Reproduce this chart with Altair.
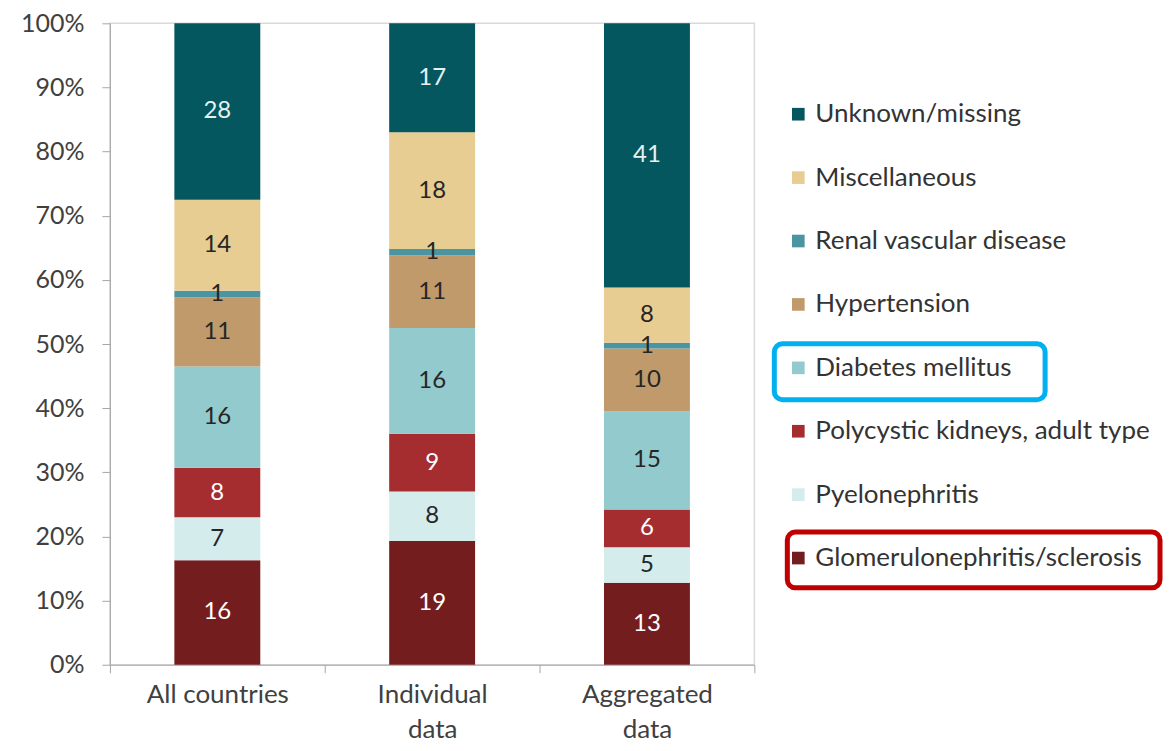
import altair as alt
import pandas as pd

categories = ["All countries", "Individual data", "Aggregated data"]
causes = [
    "Glomerulonephritis/sclerosis",
    "Pyelonephritis",
    "Polycystic kidneys, adult type",
    "Diabetes mellitus",
    "Hypertension",
    "Renal vascular disease",
    "Miscellaneous",
    "Unknown/missing",
]
colors = ["#741D1F", "#D4ECEC", "#A52D30", "#93CACD", "#C09A6B", "#4B95A2", "#E8CD93", "#04575F"]
label_colors = ["#FFFFFF", "#262626", "#FFFFFF", "#262626", "#262626", "#262626", "#262626", "#E6F2F2"]

all_countries = [16.3, 6.7, 7.7, 15.8, 10.8, 1.0, 14.2, 27.5]
individual = [19.3, 7.7, 9.0, 16.5, 11.3, 1.0, 18.2, 17.0]
aggregated = [12.8, 5.5, 5.9, 15.3, 9.8, 0.9, 8.6, 41.2]

labels_all = [16, 7, 8, 16, 11, 1, 14, 28]
labels_ind = [19, 8, 9, 16, 11, 1, 18, 17]
labels_agg = [13, 5, 6, 15, 10, 1, 8, 41]

highlight = ["Diabetes mellitus", "Glomerulonephritis/sclerosis"]
highlight_colors = ["#00B0F0", "#C00000"]

FONT = "Lato"

rows = []
for cat, vals, labs in zip(categories, [all_countries, individual, aggregated], [labels_all, labels_ind, labels_agg]):
    for i, (c, v, l) in enumerate(zip(causes, vals, labs)):
        rows.append({"category": cat, "cause": c, "value": v, "label": str(l), "ord": i, "lc": label_colors[i]})
df = pd.DataFrame(rows)

base = alt.Chart(df).transform_stack(
    stack="value", groupby=["category"], as_=["y0", "y1"],
    sort=[alt.SortField("ord", order="ascending")],
).transform_calculate(mid="(datum.y0 + datum.y1) / 2")

xenc = alt.X(
    "category:N", sort=categories, title=None,
    scale=alt.Scale(paddingInner=0, paddingOuter=0),
    axis=alt.Axis(
        labelAngle=0, labelFontSize=26, labelColor="#404040", labelFont=FONT,
        labelExpr="datum.label == 'All countries' ? datum.label : split(datum.label, ' ')",
        labelLineHeight=35, labelPadding=9, labelBaseline="top",
        tickBand="extent", tickSize=8, tickColor="#a6a6a6", domainColor="#a6a6a6",
        grid=False,
    ),
)

bars = base.mark_bar(size=86).encode(
    x=xenc,
    y=alt.Y(
        "y0:Q", title=None,
        scale=alt.Scale(domain=[0, 100], nice=False),
        axis=alt.Axis(
            values=list(range(0, 101, 10)), labelExpr="datum.value + '%'",
            labelFontSize=25, labelColor="#404040", labelFont=FONT,
            tickSize=8, labelPadding=18, tickColor="#a6a6a6", domainColor="#a6a6a6",
            grid=False,
        ),
    ),
    y2="y1:Q",
    color=alt.Color("cause:N", scale=alt.Scale(domain=causes, range=colors), legend=None),
)

texts = base.mark_text(fontSize=24, font=FONT, baseline="middle", align="center").encode(
    x=alt.X("category:N", sort=categories),
    y=alt.Y("mid:Q"),
    text="label:N",
    color=alt.Color("lc:N", scale=None),
)

main = alt.layer(bars, texts).properties(
    width=645, height=642, view=alt.ViewConfig(stroke="#d9d9d9", strokeWidth=1.5)
)

legend_order = list(reversed(causes))
leg_df = pd.DataFrame({"cause": causes})
yleg = alt.Y("cause:N", sort=legend_order, axis=None,
             scale=alt.Scale(paddingInner=0.12, paddingOuter=1))

leg_sq = alt.Chart(leg_df).mark_square(size=160, opacity=1, yOffset=-0.4).encode(
    x=alt.value(29), y=yleg,
    color=alt.Color("cause:N", scale=alt.Scale(domain=causes, range=colors), legend=None),
)
leg_txt = alt.Chart(leg_df).mark_text(
    align="left", baseline="middle", fontSize=26, font=FONT, color="#333333", yOffset=-0.4
).encode(x=alt.value(46), y=yleg, text="cause:N")

box_extents = {"Diabetes mellitus": (5, 276), "Glomerulonephritis/sclerosis": (18, 391)}
box_shift = {"Diabetes mellitus": 3.5, "Glomerulonephritis/sclerosis": 1.5}
boxes = []
for h, hc in zip(highlight, highlight_colors):
    x0, x1 = box_extents[h]
    boxes.append(
        alt.Chart(pd.DataFrame({"cause": [h]})).mark_rect(
            cornerRadius=8, stroke=hc, strokeWidth=5, fill="#FFFFFF", fillOpacity=0,
            yOffset=box_shift[h], y2Offset=box_shift[h],
        ).encode(x=alt.value(x0), x2=alt.value(x1), y=yleg)
    )

legend = alt.layer(*boxes, leg_sq, leg_txt).properties(
    width=392, height=627, view=alt.ViewConfig(stroke="transparent")
)

chart = alt.hconcat(main, legend, spacing=12).properties(
    padding={"left": 11, "top": 2, "right": 0, "bottom": 0}
).configure(font=FONT)

chart.save("out.html", embed_options={"renderer": "svg", "actions": False})
